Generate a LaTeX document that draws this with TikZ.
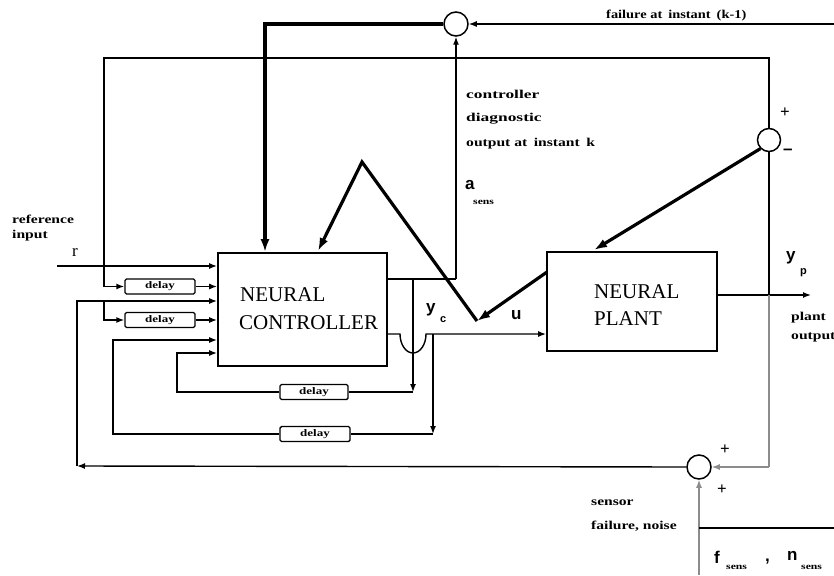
\documentclass[tikz,border=0pt]{standalone}
\usepackage{fontspec}
\setmainfont{Liberation Serif}
\newfontfamily\symfont{Liberation Sans}
\usetikzlibrary{arrows.meta}
\newcommand{\xst}[1]{\scalebox{1.3}[1]{#1}}
\newcommand{\xsw}[1]{\scalebox{1.45}[1]{#1}}
\begin{document}
\begin{tikzpicture}[x=1pt,y=-1pt,
  ln/.style={line width=1.4pt},
  arr/.style={ln,-{Latex[length=8pt,width=6pt]}},
  tk/.style={line width=3.2pt},
  tkarr/.style={tk,-{Latex[length=13pt,width=9pt]}},
  blk/.style={draw,line width=1.7pt,inner sep=0pt},
  dly/.style={draw,line width=1.4pt,rounded corners=1.5pt,minimum width=70pt,minimum height=15pt,inner sep=0pt,font=\fontsize{10}{10}\selectfont\bfseries},
  sumc/.style={draw,circle,line width=1.5pt,minimum size=24pt,inner sep=0pt,fill=white},
  lab/.style={font=\fontsize{12}{13}\selectfont\bfseries,inner sep=0pt},
  sub/.style={font=\fontsize{9}{10}\selectfont\bfseries,inner sep=0pt},
  sym/.style={font=\symfont\fontsize{17}{18}\selectfont\bfseries,inner sep=0pt},
  big/.style={font=\fontsize{21}{24}\selectfont,inner sep=0pt},
  pale/.style={draw=black!45},
]
\clip (0,0) rectangle (834,575);
\fill[white] (0,0) rectangle (834,575);

% blocks
\node[blk,minimum width=169pt,minimum height=113pt] (ctrl) at (302.5,309.5) {};
\node[blk,minimum width=170pt,minimum height=99pt] (plant) at (632,301.5) {};
\node[big,anchor=west] (ct1) at (240,295) {NEURAL};
\node[big,anchor=west] (ct2) at (239,323) {CONTROLLER};
\node[big,anchor=west] (pt1) at (594,292) {NEURAL};
\node[big,anchor=west] (pt2) at (594,319) {PLANT};

% delays
\node[dly] (d1) at (160,286.5) {\xst{delay}};
\node[dly] (d2) at (160,320) {\xst{delay}};
\node[dly,minimum width=68pt] (d3) at (314,392) {\xst{delay}};
\node[dly] (d4) at (315,434) {\xst{delay}};

% summing junctions
\node[sumc] (s0) at (456,24) {};
\node[sumc,minimum size=23pt] (s1) at (769,140) {};
\node[sumc] (s2) at (699,467) {};

% coordinates
\coordinate (rin) at (57,266);
\coordinate (rj) at (104,266);
\coordinate (tl) at (104,58);
\coordinate (tr) at (769,58);
\coordinate (fbl) at (77,466);
\coordinate (fbt) at (77,301);
\coordinate (j2) at (104,301);
\coordinate (o1) at (387,279);
\coordinate (o1c) at (456,279);
\coordinate (b3t) at (413,279);
\coordinate (b3b) at (413,392);
\coordinate (l3) at (177,392);
\coordinate (l3t) at (177,353);
\coordinate (o2) at (387,334);
\coordinate (h1) at (400,334);
\coordinate (b4t) at (433,334);
\coordinate (b4b) at (433,434);
\coordinate (l4) at (113,434);
\coordinate (l4t) at (113,340);
\coordinate (yp) at (717,295);
\coordinate (ypj) at (769,295);
\coordinate (ype) at (811,295);
\coordinate (s2r) at (769,467);
\coordinate (fin) at (834,24);
\coordinate (k0) at (265,24);
\coordinate (nb) at (699,575);
\coordinate (nj) at (699,528);
\coordinate (ne) at (834,528);
\coordinate (pe) at (547,272);
\coordinate (ue) at (477,321);
\coordinate (apex) at (362,162);
\coordinate (ce) at (318,251);
\coordinate (pt) at (594,250);

% reference input and its branches
\draw[arr] (rin) -- (ctrl.west |- rin);
\draw[ln] (rj) -- (tl) -- (tr) -- (s1.north);
\draw[arr] (rj) |- (d1.west);
\draw[arr] (d1.east) -- (ctrl.west |- d1.east);

% sensor feedback
\draw[arr] (s2.west) -- (fbl);
\draw[arr] (fbl) -- (fbt) -- (ctrl.west |- fbt);
\draw[arr] (j2) |- (d2.west);
\draw[arr] (d2.east) -- (ctrl.west |- d2.east);

% controller output 1 (diagnostic)
\draw[ln] (o1) -- (o1c);
\draw[arr] (o1c) -- (s0.south);
\draw[arr] (b3t) -- (b3b);
\draw[ln] (b3b) -- (d3.east);
\draw[arr] (d3.west) -- (l3) -- (l3t) -- (ctrl.west |- l3t);

% controller output 2 (u)
\draw[arr] (o2) -- (h1) arc[start angle=180,end angle=0,x radius=13,y radius=19] -- (plant.west |- o2);
\draw[arr] (b4t) -- (b4b);
\draw[ln] (b4b) -- (d4.east);
\draw[arr] (d4.west) -- (l4) -- (l4t) -- (ctrl.west |- l4t);

% plant output
\draw[arr] (yp) -- (ype);
\draw[ln] (ypj) -- (s1.south);
\draw[ln,pale] (ypj) -- (s2r);
\draw[arr,pale] (s2r) -- (s2.east);

% sensor failure / noise
\draw[arr,pale] (nb) -- (s2.south);
\draw[ln] (nj) -- (ne);

% diagnostic failure input
\draw[arr] (fin) -- (s0.east);

% thick error paths
\draw[tkarr] (s0.west) -- (k0) -- (ctrl.north -| k0);
\draw[tkarr] (s1.south west) -- (pt);
\draw[tkarr] (pe) -- (ue);
\draw[tkarr] (ue) -- (apex) -- (ce);

% labels
\node[lab,anchor=west] (lfail) at (606,16) {\scalebox{1.2}[1]{failure at\, instant\, (k-1)}};
\node[lab,anchor=west] (lc1) at (466,94) {\xsw{controller}};
\node[lab,anchor=west] (lc2) at (466,119) {\xsw{diagnostic}};
\node[lab,anchor=west] (lc3) at (466,144) {\xst{output at\, instant\, k}};
\node[sym,anchor=west] (la) at (465,185) {a};
\node[sub,anchor=west] (las) at (473,202) {\xst{sens}};
\node[lab,anchor=west] (lref1) at (12,219) {\xst{reference}};
\node[lab,anchor=west] (lref2) at (12,236) {\xst{input}};
\node[big,anchor=west,font=\fontsize{17}{18}\selectfont] (lr) at (72,252) {r};
\node[sym,anchor=west] (lyc) at (426,310) {y};
\node[sub,anchor=west,font=\symfont\fontsize{11}{12}\selectfont\bfseries] (lycs) at (440,320) {c};
\node[sym,anchor=west] (lu) at (511,315) {u};
\node[sym,anchor=west] (lyp) at (786,258) {y};
\node[sub,anchor=west,font=\symfont\fontsize{11}{12}\selectfont\bfseries] (lyps) at (800,273) {p};
\node[lab,anchor=west] (lpo1) at (791,318) {\xst{plant}};
\node[lab,anchor=west] (lpo2) at (791,337) {\xst{output}};
\node[lab,anchor=west,font=\fontsize{17}{18}\selectfont\bfseries] (lp1) at (780,113) {+};
\node[lab,anchor=west,font=\fontsize{17}{18}\selectfont\bfseries] (lm1) at (783,152) {\symfont –};
\node[lab,anchor=west,font=\fontsize{17}{18}\selectfont\bfseries] (lp2) at (720,450) {+};
\node[lab,anchor=west,font=\fontsize{17}{18}\selectfont\bfseries] (lp3) at (717,490) {+};
\node[lab,anchor=west] (ls1) at (591,503) {\xst{sensor}};
\node[lab,anchor=west] (ls2) at (591,526) {\xst{failure, noise}};
\node[sym,anchor=west] (lf) at (714,557) {f};
\node[sub,anchor=west] (lfs) at (726,567) {\xst{sens}};
\node[sym,anchor=west] (lcom) at (765,562) {,};
\node[sym,anchor=west] (ln) at (787,556) {n};
\node[sub,anchor=west] (lns) at (801,567) {\xst{sens}};
\end{tikzpicture}
\end{document}
